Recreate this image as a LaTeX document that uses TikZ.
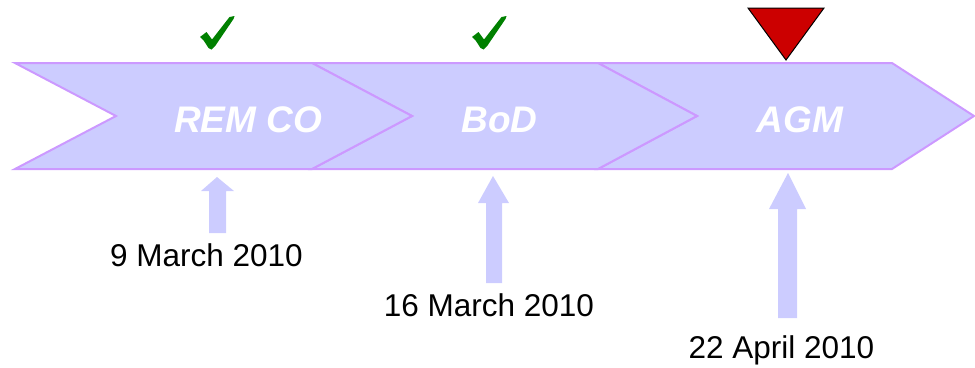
\documentclass[tikz,border=0pt]{standalone}
\usepackage{fontspec}
\setmainfont{Liberation Sans}
\definecolor{chevfill}{HTML}{CCCCFF}
\definecolor{chevline}{HTML}{CC99FF}
\definecolor{tickgreen}{HTML}{008000}
\definecolor{markred}{HTML}{CC0000}
\tikzset{
  chev/.style={fill=chevfill, draw=chevline, line width=2pt, line join=miter},
  blockarrow/.style={fill=chevfill, draw=none},
  chevlabel/.style={anchor=base, inner sep=0pt, text=white, font=\fontsize{37}{42}\selectfont\bfseries\itshape},
  datelabel/.style={anchor=base, inner sep=0pt, text=black, font=\fontsize{31.5}{36}\selectfont},
  marker/.style={fill=markred, draw=black, line width=1pt, line join=miter},
  checkmk/.pic={
    \fill[tickgreen] (0,21) -- (6.5,16) -- (12,23.5) -- (29.5,1) -- (34.5,0) -- (33.5,3)
      -- (15.5,29.5) -- (11.5,33.5) -- (8.5,32) -- (4,25) -- cycle;
  }
}
\begin{document}
\begin{tikzpicture}[x=1pt, y=-1pt]
\useasboundingbox (0,0) rectangle (975,367);
% chevrons
\draw[chev] (598,63) -- (892,63) -- (974,116) -- (892,169) -- (598,169) -- (697,116) -- cycle;
\draw[chev] (312,63) -- (598,63) -- (697,116) -- (598,169) -- (312,169) -- (412,116) -- cycle;
\draw[chev] (15,63) -- (312,63) -- (412,116) -- (312,169) -- (15,169) -- (116,116) -- cycle;
\node[chevlabel] (remco) at (248,132) {REM CO};
\node[chevlabel] (bod) at (499.5,132) {BoD};
\node[chevlabel] (agm) at (800,132) {AGM};
% status marks
\pic at (200,16) {checkmk};
\pic at (472,16) {checkmk};
\draw[marker] (748,8) -- (824,8) -- (786,60) -- cycle;
% block arrows
\fill[blockarrow] (217,177) -- (234,191) -- (226,191) -- (226,233) -- (209,233) -- (209,191) -- (201,191) -- cycle;
\fill[blockarrow] (493,176) -- (509,203) -- (502,203) -- (502,283) -- (486,283) -- (486,203) -- (478,203) -- cycle;
\fill[blockarrow] (788,173) -- (806,209) -- (797,209) -- (797,318) -- (778,318) -- (778,209) -- (769,209) -- cycle;
% dates
\node[datelabel] (d1) at (206.5,266) {9 March 2010};
\node[datelabel] (d2) at (489,316) {16 March 2010};
\node[datelabel] (d3) at (781.5,358) {22 April 2010};
\end{tikzpicture}
\end{document}
